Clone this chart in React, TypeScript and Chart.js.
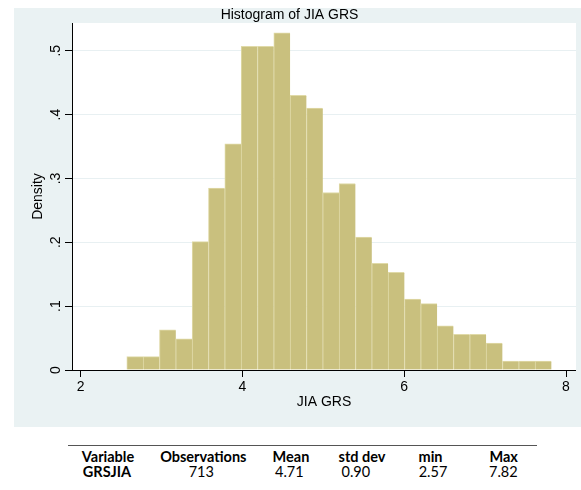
import React, { useEffect, useRef } from 'react';
import { Chart, registerables } from 'chart.js';

Chart.register(...registerables);

// ---- data ----
const BIN_START = 2.57; // min of GRSJIA
const BIN_END = 7.82; // max of GRSJIA
const DENSITY = [
  0.021, 0.021, 0.063, 0.049, 0.201, 0.285, 0.354, 0.507, 0.507, 0.528,
  0.430, 0.410, 0.278, 0.292, 0.208, 0.167, 0.153, 0.111, 0.104, 0.069,
  0.056, 0.056, 0.042, 0.014, 0.014, 0.014,
];
const X_TICKS = [2, 4, 6, 8];
const X_TICK_LABELS = ['2', '4', '6', '8'];
const Y_TICKS = [0, 0.1, 0.2, 0.3, 0.4, 0.5];
const Y_TICK_LABELS = ['0', '.1', '.2', '.3', '.4', '.5'];
const TITLE = 'Histogram of JIA GRS';
const X_TITLE = 'JIA GRS';
const Y_TITLE = 'Density';
const TABLE_HEAD = ['Variable', 'Observations', 'Mean', 'std dev', 'min', 'Max'];
const TABLE_ROW = ['GRSJIA', '713', '4.71', '0.90', '2.57', '7.82'];

// ---- styling ----
const FONT = 'Liberation Sans, Arial, sans-serif';
const PANEL = 'rgb(234,242,243)';
const GRID = 'rgb(232,240,242)';
const FILL = 'rgb(201,192,126)';
const EDGE = 'rgb(224,218,168)';
const X_MIN = 1.8924;
const X_MAX = 8.1236;
const Y_MAX = 0.5434;

const HEAD_X = [108, 203.3, 291, 362, 430.5, 503.7];
const ROW_X = [107, 201.3, 289.3, 355.8, 433, 503.3];

export default function App() {
  const ref = useRef<HTMLCanvasElement | null>(null);

  useEffect(() => {
    if (!ref.current) return;
    const binW = (BIN_END - BIN_START) / DENSITY.length;
    const data = DENSITY.map((d, i) => ({ x: BIN_START + (i + 0.5) * binW, y: d }));
    const font = { family: FONT, size: 14, weight: 'normal' as const };

    const plotBg = {
      id: 'plotBg',
      beforeDraw(chart: any) {
        const { ctx, chartArea: a } = chart;
        ctx.save();
        ctx.fillStyle = '#ffffff';
        ctx.fillRect(a.left, a.top, a.right - a.left, a.bottom - a.top);
        ctx.restore();
      },
    };

    const chart = new Chart(ref.current, {
      type: 'bar',
      data: {
        datasets: [
          {
            data,
            backgroundColor: FILL,
            borderColor: EDGE,
            borderWidth: { top: 1, left: 1, right: 0, bottom: 0 },
            borderSkipped: false,
            barPercentage: 1,
            categoryPercentage: 1,
          } as any,
        ],
      },
      options: {
        responsive: false,
        animation: false,
        layout: { padding: { left: 0, right: 0, top: 0, bottom: 0 } },
        plugins: {
          legend: { display: false },
          tooltip: { enabled: false },
          title: {
            display: true,
            text: TITLE,
            color: '#000',
            font: { family: FONT, size: 14, weight: 'normal', lineHeight: 1 },
            padding: { top: 0, bottom: 1 },
          },
        },
        scales: {
          x: {
            type: 'linear',
            min: X_MIN,
            max: X_MAX,
            offset: false,
            afterBuildTicks: (s: any) => {
              s.ticks = X_TICKS.map((v) => ({ value: v }));
            },
            afterFit: (s: any) => {
              s.height = 57;
            },
            grid: {
              offset: false,
              drawOnChartArea: false,
              drawTicks: true,
              tickLength: 7,
              tickColor: '#000',
              tickWidth: 1,
            },
            border: { display: true, color: '#000', width: 1 },
            ticks: {
              color: '#000',
              font,
              padding: 2,
              maxRotation: 0,
              autoSkip: false,
              callback: (_v: any, i: number) => X_TICK_LABELS[i],
            },
            title: {
              display: true,
              text: X_TITLE,
              color: '#000',
              font,
              padding: { top: 0, bottom: 16 },
            },
          },
          y: {
            type: 'linear',
            min: 0,
            max: Y_MAX,
            afterBuildTicks: (s: any) => {
              s.ticks = Y_TICKS.map((v) => ({ value: v }));
            },
            afterFit: (s: any) => {
              s.width = 69;
            },
            grid: {
              color: GRID,
              lineWidth: 1,
              drawTicks: true,
              tickLength: 7,
              tickColor: '#000',
              tickWidth: 1,
            },
            border: { display: true, color: '#000', width: 1 },
            ticks: {
              color: '#000',
              font,
              padding: 3,
              minRotation: 90,
              maxRotation: 90,
              crossAlign: 'center',
              autoSkip: false,
              callback: (_v: any, i: number) => Y_TICK_LABELS[i],
            },
            title: {
              display: true,
              text: Y_TITLE,
              color: '#000',
              font,
              padding: { top: 26.6, bottom: 0 },
            },
          },
        },
      } as any,
      plugins: [plotBg],
    });
    return () => chart.destroy();
  }, []);

  const cell = (text: string, cx: number, top: number, bold: boolean, key: string) => (
    <div
      key={key}
      style={{
        position: 'absolute',
        left: cx - 70,
        width: 140,
        top,
        textAlign: 'center',
        fontFamily: 'Lato, sans-serif',
        fontSize: 14.5,
        lineHeight: '16px',
        fontWeight: bold ? 700 : 400,
        color: '#000',
        whiteSpace: 'nowrap',
      }}
    >
      {text}
    </div>
  );

  return (
    <div style={{ position: 'absolute', left: 0, top: 0, width: 581, height: 490, background: '#fff' }}>
      <div style={{ position: 'absolute', left: 14, top: 8, width: 567, height: 419, background: PANEL }} />
      <canvas ref={ref} width={573} height={419} style={{ position: 'absolute', left: 3, top: 8, width: 573, height: 419 }} />
      <div style={{ position: 'absolute', left: 68, top: 445, width: 469, height: 1, background: '#555' }} />
      {TABLE_HEAD.map((t, i) => cell(t, HEAD_X[i], 448.6, true, 'h' + i))}
      {TABLE_ROW.map((t, i) => cell(t, ROW_X[i], 464, i === 0, 'r' + i))}
    </div>
  );
}
